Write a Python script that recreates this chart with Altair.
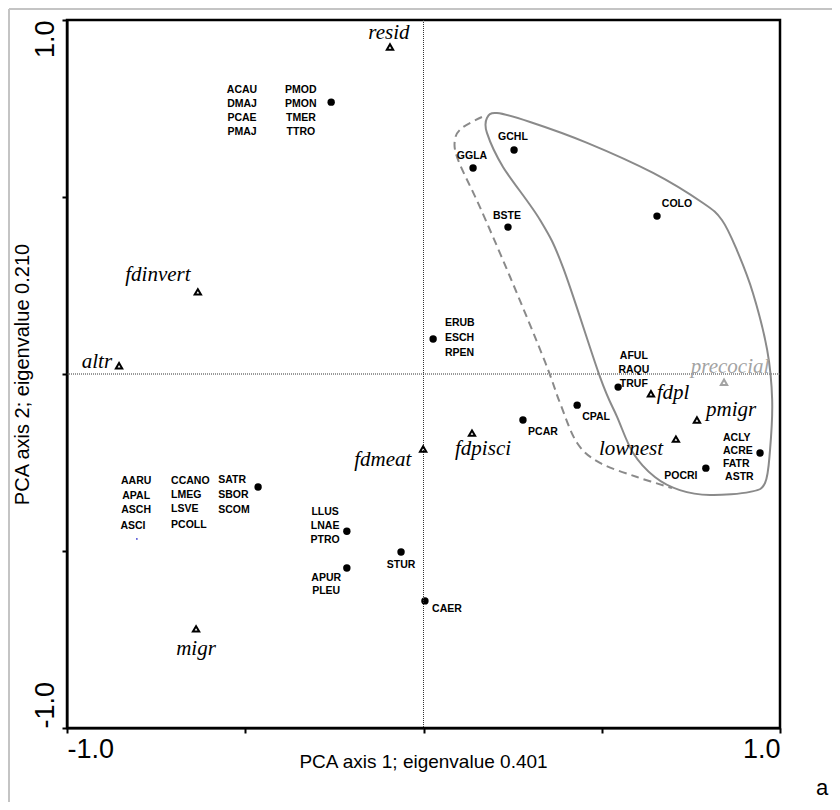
import altair as alt
import pandas as pd

# ---------------- data ----------------
# species scores (filled circles)
sp_x = [-0.259, 0.254, 0.139, 0.237, 0.655, 0.027, 0.546, 0.431, 0.279, 0.792,
        0.944, -0.464, -0.215, -0.063, -0.215, 0.004]
sp_y = [0.768, 0.633, 0.582, 0.415, 0.446, 0.099, -0.037, -0.088, -0.130, -0.266,
        -0.223, -0.319, -0.444, -0.503, -0.548, -0.641]

# stray tiny blue dot near ASCI
stray_x = [-0.804]
stray_y = [-0.466]

# species labels
lab_text = ["ACAU", "DMAJ", "PCAE", "PMAJ", "PMOD", "PMON", "TMER", "TTRO",
            "GCHL", "GGLA", "BSTE", "COLO", "ERUB", "ESCH", "RPEN",
            "AFUL", "RAQU", "TRUF", "CPAL", "PCAR", "POCRI",
            "ACLY", "ACRE", "FATR", "ASTR",
            "AARU", "APAL", "ASCH", "ASCI",
            "CCANO", "LMEG", "LSVE", "PCOLL",
            "SATR", "SBOR", "SCOM",
            "LLUS", "LNAE", "PTRO", "STUR", "APUR", "PLEU", "CAER"]
lab_x = [-0.509, -0.509, -0.509, -0.509, -0.344, -0.344, -0.344, -0.344,
         0.251, 0.136, 0.234, 0.711, 0.060, 0.060, 0.060,
         0.590, 0.590, 0.590, 0.484, 0.335, 0.722,
         0.840, 0.840, 0.840, 0.846,
         -0.806, -0.806, -0.806, -0.815,
         -0.708, -0.708, -0.708, -0.708,
         -0.576, -0.576, -0.576,
         -0.276, -0.276, -0.276, -0.063, -0.273, -0.273, 0.024]
lab_y = [0.802, 0.763, 0.723, 0.684, 0.802, 0.763, 0.723, 0.684,
         0.669, 0.616, 0.446, 0.480, 0.144, 0.102, 0.059,
         0.051, 0.011, -0.028, -0.121, -0.164, -0.288,
         -0.181, -0.218, -0.254, -0.291,
         -0.302, -0.345, -0.384, -0.429,
         -0.302, -0.342, -0.381, -0.427,
         -0.299, -0.342, -0.384,
         -0.390, -0.429, -0.469, -0.540, -0.576, -0.613, -0.664]
lab_anchor = (["c"] * 12 + ["l"] * 3 + ["c"] * 6 + ["l"] * 4 + ["c"] * 4
              + ["l"] * 7 + ["c"] * 6 + ["l"])

# environmental variables (open triangles)
env_name = ["resid", "fdinvert", "altr", "fdmeat", "fdpisci", "fdpl", "pmigr",
            "lownest", "precocial", "migr"]
env_x = [-0.094, -0.633, -0.854, -0.001, 0.136, 0.638, 0.767, 0.708, 0.843, -0.638]
env_y = [0.924, 0.232, 0.023, -0.212, -0.167, -0.056, -0.130, -0.184, -0.023, -0.720]
env_lx = [-0.097, -0.745, -0.916, -0.114, 0.167, 0.700, 0.863, 0.582, 0.860, -0.638]
env_ly = [0.963, 0.280, 0.034, -0.243, -0.212, -0.054, -0.102, -0.212, 0.020, -0.777]
env_grey = [False, False, False, False, False, False, False, False, True, False]

# solid (closed) envelope
hull_x = [0.206, 0.299, 0.459, 0.644, 0.784, 0.837, 0.879, 0.924, 0.964, 0.978,
          0.972, 0.958, 0.916, 0.804, 0.719, 0.649, 0.588, 0.543, 0.495, 0.391,
          0.327, 0.223, 0.178, 0.178]
hull_y = [0.737, 0.712, 0.653, 0.568, 0.483, 0.435, 0.350, 0.229, 0.068, -0.073,
          -0.215, -0.308, -0.333, -0.342, -0.328, -0.291, -0.223, -0.121, -0.008, 0.302,
          0.435, 0.585, 0.681, 0.723]

# dashed (open) envelope
dash_x = [0.164, 0.108, 0.088, 0.097, 0.158, 0.243, 0.341, 0.383, 0.431, 0.495, 0.599, 0.697]
dash_y = [0.726, 0.695, 0.661, 0.605, 0.472, 0.274, 0.034, -0.082, -0.195, -0.251, -0.291, -0.322]

# ---------------- tables ----------------
sp_df = pd.DataFrame({"x": sp_x, "y": sp_y})
stray_df = pd.DataFrame({"x": stray_x, "y": stray_y})
lab_df = pd.DataFrame({"t": lab_text, "x": lab_x, "y": lab_y, "a": lab_anchor})
env_df = pd.DataFrame({"n": env_name, "x": env_x, "y": env_y, "lx": env_lx,
                       "ly": env_ly,
                       "col": ["#a3a3a3" if g else "black" for g in env_grey]})
hull_df = pd.DataFrame({"x": hull_x, "y": hull_y, "i": list(range(len(hull_x)))})
dash_df = pd.DataFrame({"x": dash_x, "y": dash_y, "i": list(range(len(dash_x)))})
zero_df = pd.DataFrame({"v": [0.0]})

sc = alt.Scale(domain=[-1, 1], nice=False, zero=False)
lab_expr = "datum.value == 1 ? '1.0' : (datum.value == -1 ? '-1.0' : '')"

x_axis = alt.Axis(values=[-1, -0.5, 0, 0.5, 1], labelExpr=lab_expr, labelFlush=True,
                  labelFont="Liberation Sans", labelFontSize=27, labelColor="black",
                  labelPadding=3, tickSize=5, tickWidth=2, tickColor="black",
                  domainColor="black", domainWidth=2, grid=False,
                  title="PCA axis 1; eigenvalue 0.401", titleFont="Liberation Sans",
                  titleFontSize=19, titleFontWeight="normal", titleColor="black",
                  titleX=356, titleY=33, titleBaseline="middle", titleAlign="center")
y_axis = alt.Axis(values=[-1, -0.5, 0, 0.5, 1], labelExpr=lab_expr, labelAngle=270,
                  labelAlign={"condition": {"test": "datum.value > 0", "value": "right"},
                              "value": "left"},
                  labelBaseline="alphabetic", labelFont="Liberation Sans",
                  labelFontSize=27, labelColor="black", labelPadding=9,
                  tickSize=5, tickWidth=2, tickColor="black",
                  domainColor="black", domainWidth=2, grid=False,
                  title="PCA axis 2; eigenvalue 0.210", titleFont="Liberation Sans",
                  titleFontSize=20, titleFontWeight="normal", titleColor="black",
                  titleAngle=270, titleX=-45, titleY=354, titleBaseline="middle",
                  titleAlign="center")


def X(f="x"):
    return alt.X(f"{f}:Q", scale=sc, axis=x_axis)


def Y(f="y"):
    return alt.Y(f"{f}:Q", scale=sc, axis=y_axis)


pts = alt.Chart(sp_df).mark_circle(size=55, color="black", opacity=1).encode(
    x=X(), y=Y())

vzero = alt.Chart(zero_df).mark_rule(color="#333333", strokeWidth=1, strokeDash=[1, 1]).encode(
    x=X("v"))
hzero = alt.Chart(zero_df).mark_rule(color="#333333", strokeWidth=1, strokeDash=[1, 1]).encode(
    y=Y("v"))

hull = alt.Chart(hull_df).mark_line(color="#8a8a8a", strokeWidth=2,
                                    interpolate="cardinal-closed").encode(
    x=X(), y=Y(), order="i:Q")
dash = alt.Chart(dash_df).mark_line(color="#8a8a8a", strokeWidth=2, strokeDash=[8, 5],
                                    interpolate="cardinal").encode(
    x=X(), y=Y(), order="i:Q")

stray = alt.Chart(stray_df).mark_circle(size=3, color="#3a3ad0", opacity=1).encode(
    x=X(), y=Y())

lab_c = alt.Chart(lab_df).transform_filter("datum.a == 'c'").mark_text(
    font="Liberation Sans", fontSize=10.5, fontWeight="bold", align="center",
    baseline="middle", color="black").encode(x=X(), y=Y(), text="t:N")
lab_l = alt.Chart(lab_df).transform_filter("datum.a == 'l'").mark_text(
    font="Liberation Sans", fontSize=10.5, fontWeight="bold", align="left",
    baseline="middle", color="black").encode(x=X(), y=Y(), text="t:N")

tri = alt.Chart(env_df).mark_point(shape="triangle-up", filled=False, strokeWidth=2,
                                   size=40, opacity=1).encode(
    x=X(), y=Y(), color=alt.Color("col:N", scale=None))
env_lab = alt.Chart(env_df).mark_text(font="Liberation Serif", fontSize=21,
                                      fontStyle="italic", align="center",
                                      baseline="middle").encode(
    x=X("lx"), y=Y("ly"), text="n:N", color=alt.Color("col:N", scale=None))

# light grey outer frame of the figure and the panel letter
frame_v = alt.Chart(zero_df).mark_rule(color="#c4c4c4", strokeWidth=2).encode(
    x=alt.value(-58), y=alt.value(-11), y2=alt.value(790))
frame_h = alt.Chart(zero_df).mark_rule(color="#c4c4c4", strokeWidth=2).encode(
    x=alt.value(-58), x2=alt.value(770), y=alt.value(-11))
panel = alt.Chart(zero_df).mark_text(text="a", font="Liberation Sans", fontSize=22,
                                     align="center", baseline="bottom",
                                     color="black").encode(
    x=alt.value(755), y=alt.value(780))

chart = alt.layer(
    pts, frame_v, frame_h, vzero, hzero, hull, dash, stray, lab_c, lab_l, tri,
    env_lab, panel
).properties(
    width=713, height=708,
    autosize=alt.AutoSizeParams(type="none"),
    padding={"left": 59, "top": 12, "right": 52, "bottom": 74},
    background="white",
).configure_view(stroke="black", strokeWidth=2.5)

chart.save("out.html", embed_options={"renderer": "svg", "actions": False})
